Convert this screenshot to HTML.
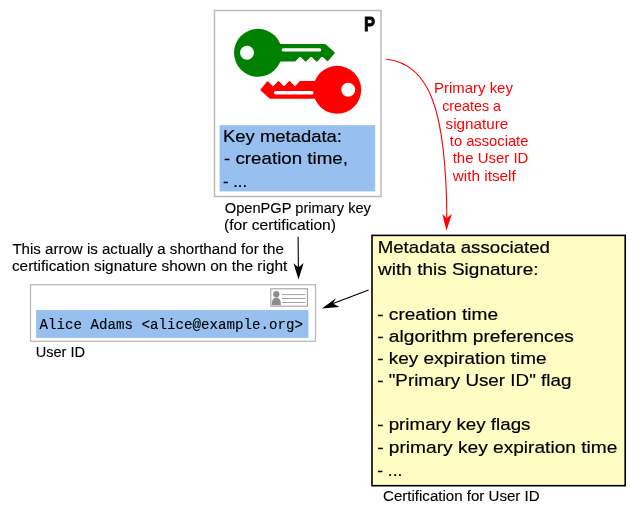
<!DOCTYPE html>
<html><head><meta charset="utf-8">
<style>
html,body{margin:0;padding:0;background:#fff;width:637px;height:515px;overflow:hidden}
svg{display:block;will-change:transform}
text{font-family:"Liberation Sans",sans-serif;fill:#000;stroke:#000;stroke-width:0.12px}
text.big{stroke-width:0.18px}
.red{stroke:none}
.mono{font-family:"Liberation Mono",monospace}
.red{fill:#f00}
</style></head><body>
<svg width="637" height="515" viewBox="0 0 637 515">
<rect x="0" y="0" width="637" height="515" fill="#fff"/>

<!-- primary key box -->
<rect x="214.5" y="10.5" width="166.5" height="186" fill="#fff" stroke="#bbbbbb" stroke-width="1.5"/>
<text id="t1" x="364.1" y="31.2" font-size="20.6" font-weight="bold" textLength="11.1" lengthAdjust="spacingAndGlyphs" style="stroke-width:0.8px">P</text>

<!-- green key -->
<g transform="translate(258,52.8)" fill="#008000">
  <circle cx="0" cy="0" r="24"/>
  <polygon points="19.10,-7.80 19.10,7.70 36.70,7.70 42.17,1.9 47.70,7.60 53.20,1.9 58.70,7.60 64.20,1.9 69.53,7.27 75.58,-0.08 66.88,-7.80" stroke="#008000" stroke-width="2.2" stroke-linejoin="round"/>
  <circle cx="-11" cy="0" r="7" fill="#fff"/>
  <rect x="23.6" y="-4.6" width="39.7" height="3.4" rx="1.7" fill="#fff"/>
</g>
<!-- red key -->
<g transform="translate(337.2,89.8) rotate(180)" fill="#f00">
  <circle cx="0" cy="0" r="24"/>
  <polygon points="19.10,-7.80 19.10,7.70 36.70,7.70 42.17,1.9 47.70,7.60 53.20,1.9 58.70,7.60 64.20,1.9 69.53,7.27 75.58,-0.08 66.88,-7.80" stroke="#f00" stroke-width="2.2" stroke-linejoin="round"/>
  <circle cx="-11" cy="0" r="7" fill="#fff"/>
  <rect x="23.6" y="-4.6" width="39.7" height="3.4" rx="1.7" fill="#fff"/>
</g>

<!-- key metadata -->
<rect x="219.6" y="125.2" width="155.6" height="66.2" fill="#97bff0"/>
<text id="t2" class="big" x="223.0" y="142" font-size="17" textLength="119.0" lengthAdjust="spacingAndGlyphs">Key metadata:</text>
<text id="t3" class="big" x="224.0" y="164" font-size="17" textLength="124.0" lengthAdjust="spacingAndGlyphs">- creation time,</text>
<text id="t4" class="big" x="223.0" y="187" font-size="17" textLength="24.1" lengthAdjust="spacingAndGlyphs">- ...</text>

<text id="t5" x="224.8" y="213.2" font-size="14" textLength="146.1" lengthAdjust="spacingAndGlyphs">OpenPGP primary key</text>
<text id="t6" x="224.0" y="229.8" font-size="14" textLength="112.0" lengthAdjust="spacingAndGlyphs">(for certification)</text>

<!-- red arrow -->
<path d="M386.2,59.3 C429.9,63.6 446.5,110.6 446.9,222" fill="none" stroke="#f00" stroke-width="1.1"/>
<path d="M446.5,230.8 L451.8,214 L446.7,218.2 L442.3,214 Z" fill="#f00"/>
<text id="t7" class="red" x="434.0" y="92.9" font-size="14.8" textLength="78.9" lengthAdjust="spacingAndGlyphs">Primary key</text>
<text id="t8" class="red" x="442.2" y="110.8" font-size="14.8" textLength="58.8" lengthAdjust="spacingAndGlyphs">creates a</text>
<text id="t9" class="red" x="445.6" y="128.6" font-size="14.8" textLength="62.7" lengthAdjust="spacingAndGlyphs">signature</text>
<text id="t10" class="red" x="449.8" y="146" font-size="14.8" textLength="78.6" lengthAdjust="spacingAndGlyphs">to associate</text>
<text id="t11" class="red" x="452.7" y="163.3" font-size="14.8" textLength="75.7" lengthAdjust="spacingAndGlyphs">the User ID</text>
<text id="t12" class="red" x="452.7" y="181" font-size="14.8" textLength="63.1" lengthAdjust="spacingAndGlyphs">with itself</text>

<!-- left note -->
<text id="t13" x="12.4" y="253.8" font-size="14" textLength="271.4" lengthAdjust="spacingAndGlyphs">This arrow is actually a shorthand for the</text>
<text id="t14" x="11.9" y="271.4" font-size="14" textLength="275.4" lengthAdjust="spacingAndGlyphs">certification signature shown on the right</text>
<line x1="298.1" y1="236.8" x2="298.4" y2="268" stroke="#000" stroke-width="1.1"/>
<path d="M298.5,279.4 L303.6,263 L298.5,267.5 L293.5,263.2 Z" fill="#000"/>

<!-- user id box -->
<rect x="30.5" y="284.7" width="285" height="56.6" fill="#fff" stroke="#bbbbbb" stroke-width="1.3"/>
<rect x="36.1" y="310.1" width="272.4" height="27.8" fill="#97bff0"/>
<text id="t15" class="mono" x="39.6" y="328.9" font-size="14.3" textLength="263.4" lengthAdjust="spacingAndGlyphs">Alice Adams &lt;alice@example.org&gt;</text>
<!-- id card icon -->
<rect x="270.8" y="288.8" width="36.6" height="17.4" fill="#fff" stroke="#9a9a9a" stroke-width="1"/>
<circle cx="276.3" cy="294.2" r="3.1" fill="#8c8c8c"/>
<path d="M271.7,305.2 C271.7,299.5 273.8,297.6 276.3,297.6 C278.8,297.6 280.9,299.5 280.9,305.2 Z" fill="#8c8c8c"/>
<line x1="281.8" y1="294.6" x2="305.4" y2="294.6" stroke="#8c8c8c" stroke-width="0.8"/>
<line x1="281.8" y1="298.5" x2="305.4" y2="298.5" stroke="#8c8c8c" stroke-width="0.8"/>
<line x1="281.8" y1="302.5" x2="305.4" y2="302.5" stroke="#8c8c8c" stroke-width="0.8"/>
<text id="t16" x="35.7" y="356.7" font-size="14" textLength="49.4" lengthAdjust="spacingAndGlyphs">User ID</text>

<!-- arrow to user id -->
<line x1="368.6" y1="290" x2="333" y2="303.5" stroke="#000" stroke-width="1.3"/>
<path d="M321.9,308.4 L335.9,298.2 L332.9,303.5 L339.5,307 Z" fill="#000"/>

<!-- yellow box -->
<rect x="372" y="235.4" width="253.2" height="250.3" fill="#fffcc4" stroke="#000" stroke-width="1.6"/>
<g font-size="17">
<text id="t17" class="big" x="377.7" y="253.4" textLength="172.3" lengthAdjust="spacingAndGlyphs">Metadata associated</text>
<text id="t18" class="big" x="378.1" y="275" textLength="160.4" lengthAdjust="spacingAndGlyphs">with this Signature:</text>
<text id="t19" class="big" x="377.2" y="320" textLength="120.9" lengthAdjust="spacingAndGlyphs">- creation time</text>
<text id="t20" class="big" x="377.2" y="341.8" textLength="196.7" lengthAdjust="spacingAndGlyphs">- algorithm preferences</text>
<text id="t21" class="big" x="377.2" y="363.9" textLength="169.4" lengthAdjust="spacingAndGlyphs">- key expiration time</text>
<text id="t22" class="big" x="377.2" y="385.7" textLength="194.2" lengthAdjust="spacingAndGlyphs">- "Primary User ID" flag</text>
<text id="t23" class="big" x="377.2" y="430.2" textLength="153.3" lengthAdjust="spacingAndGlyphs">- primary key flags</text>
<text id="t24" class="big" x="377.2" y="452.5" textLength="240.2" lengthAdjust="spacingAndGlyphs">- primary key expiration time</text>
<text id="t25" class="big" x="377.2" y="475.9" textLength="25.1" lengthAdjust="spacingAndGlyphs">- ...</text>
</g>
<text id="t26" x="383.0" y="500.5" font-size="14" textLength="156.6" lengthAdjust="spacingAndGlyphs">Certification for User ID</text>
</svg>
</body></html>
